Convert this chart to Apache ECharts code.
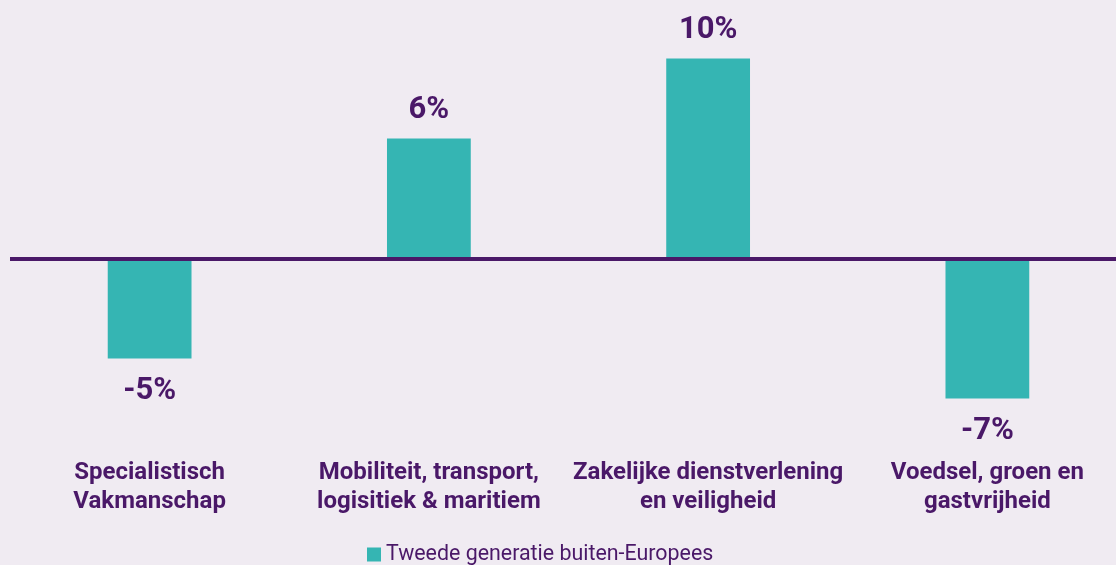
<!DOCTYPE html>
<html>
<head>
<meta charset="utf-8">
<script src="https://cdn.jsdelivr.net/npm/echarts@6/dist/echarts.min.js"></script>
<style>
  html, body { margin: 0; padding: 0; background: #f0ebf2; overflow: hidden; }
</style>
</head>
<body>
<div id="main" style="width: 1127px; height: 565px;"></div>
<script>
var categories = ['Specialistisch\nVakmanschap', 'Mobiliteit, transport,\nlogisitiek & maritiem', 'Zakelijke dienstverlening\nen veiligheid', 'Voedsel, groen en\ngastvrijheid'];
var seriesName = 'Tweede generatie buiten-Europees';
var values = [-5, 6, 10, -7];

var purple = '#4a1868';
var teal = '#35b5b3';

var myChart = echarts.init(document.getElementById('main'));

var option = {
  backgroundColor: '#f0ebf2',
  textStyle: { fontFamily: 'Roboto' },
  legend: {
    left: 362,
    top: 539,
    itemWidth: 14,
    itemHeight: 14,
    itemGap: 0,
    icon: 'rect',
    textStyle: { color: purple, fontSize: 21.4 },
    data: [seriesName]
  },
  grid: {
    left: 10,
    right: 0,
    top: 58.5,
    height: 400,
    containLabel: false
  },
  xAxis: {
    type: 'category',
    data: categories,
    position: 'bottom',
    axisLine: { show: false },
    axisTick: { show: false },
    axisLabel: {
      color: purple,
      fontSize: 24,
      fontWeight: 'bold',
      lineHeight: 29,
      margin: 0,
      interval: 0
    }
  },
  yAxis: {
    type: 'value',
    min: -10,
    max: 10,
    show: false,
    splitLine: { show: false }
  },
  series: [{
    name: seriesName,
    type: 'bar',
    barWidth: '30%',
    itemStyle: { color: teal },
    label: {
      show: true,
      color: purple,
      fontSize: 31,
      fontWeight: 'bold',
      formatter: function (p) { return p.value + '%'; }
    },
    markLine: {
      silent: true,
      symbol: 'none',
      label: { show: false },
      lineStyle: { color: purple, width: 4, type: 'solid' },
      data: [{ yAxis: 0 }]
    },
    data: values.map(function (v) {
      return {
        value: v,
        label: v < 0 ? { position: 'bottom', distance: 17 } : { position: 'top', distance: 13 }
      };
    })
  }]
};

myChart.setOption(option);
</script>
</body>
</html>
